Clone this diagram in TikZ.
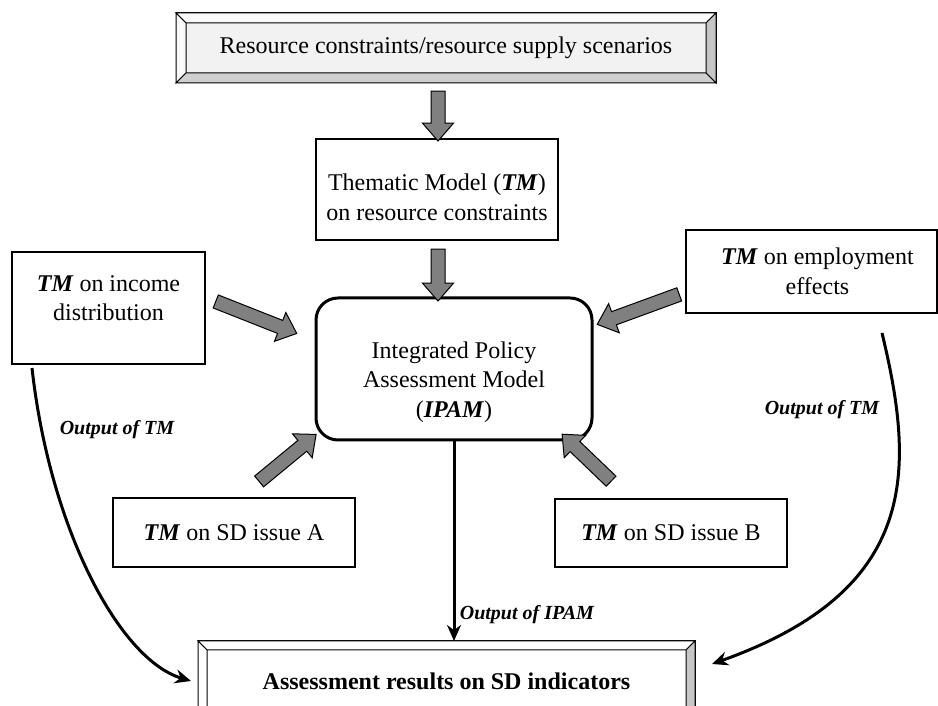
\documentclass[tikz,border=0pt]{standalone}
\usepackage{fontspec}
\setmainfont{Liberation Serif}
\usetikzlibrary{shapes.arrows,calc,arrows.meta}

\tikzset{
  model/.style={draw, line width=1.3pt, fill=white, align=center, inner sep=0pt, font=\fontsize{24}{29.5}\selectfont},
  caption/.style={align=center, inner sep=0pt, font=\fontsize{24}{29.5}\selectfont},
  bevelbox/.style={draw, line width=1pt, outer sep=0pt, inner sep=0pt, align=center, font=\fontsize{24}{29.5}\selectfont},
  blockarrow/.style={single arrow, draw=black, line width=1pt, fill=gray, minimum width=30pt, single arrow head extend=8.5pt, single arrow tip angle=82, inner xsep=0pt, inner ysep=6.5pt, sloped, allow upside down},
  outflow/.style={line width=3pt, -{Stealth[length=16pt,width=14pt]}},
  outlabel/.style={font=\fontsize{20}{24}\selectfont\bfseries\itshape}
}

% fat grey arrow between two named points
\newcommand\fatarrow[2]{\path let \p1=($(#2)-(#1)$), \n1={veclen(\x1,\y1)} in (#1) -- (#2) node[midway, blockarrow, minimum height=\n1] {};}

% raised frame: node, depth, top/left, right, bottom colours
\newcommand\bevelframe[5]{%
  \path[fill=#3, draw, line width=1pt] (#1.north west) -- (#1.north east) -- ($(#1.north east)+(-#2,-#2)$) -- ($(#1.north west)+(#2,-#2)$) -- cycle;
  \path[fill=#3, draw, line width=1pt] (#1.north west) -- (#1.south west) -- ($(#1.south west)+(#2,#2)$) -- ($(#1.north west)+(#2,-#2)$) -- cycle;
  \path[fill=#4, draw, line width=1pt] (#1.north east) -- (#1.south east) -- ($(#1.south east)+(-#2,#2)$) -- ($(#1.north east)+(-#2,-#2)$) -- cycle;
  \path[fill=#5, draw, line width=1pt] (#1.south west) -- (#1.south east) -- ($(#1.south east)+(-#2,#2)$) -- ($(#1.south west)+(#2,#2)$) -- cycle;
}

\begin{document}
\begin{tikzpicture}[x=1pt, y=1pt]
  \clip (0,0) rectangle (938,706);

  % Framed boxes
  \node[bevelbox, fill=gray!10, minimum width=540, minimum height=70] (scen) at (446,658) {Resource constraints/resource supply scenarios};
  \bevelframe{scen}{10}{gray!4}{gray!45}{gray!38}
  \node[bevelbox, fill=white, minimum width=497, minimum height=81] (result) at (446.5,24.5) {\textbf{Assessment results on SD indicators}};
  \bevelframe{result}{9}{white}{gray!45}{gray!38}

  % Models
  \node[model, minimum width=242, minimum height=101] (tmres) at (437,516.5) {};
  \node[caption] (tmrestxt) at ($(tmres)+(0,-8)$) {Thematic Model (\textbf{\textit{TM}})\\on resource constraints};
  \node[model, line width=3pt, rounded corners=22pt, minimum width=276, minimum height=142] (ipam) at (454,337) {};
  \node[caption] (ipamtxt) at ($(ipam)+(0,-13)$) {Integrated Policy\\Assessment Model\\(\textbf{\textit{IPAM}})};
  \node[model, minimum width=193, minimum height=112] (tminc) at (108.5,398) {};
  \node[caption] (tminctxt) at ($(tminc)+(0,10)$) {\textbf{\textit{TM}} on income\\distribution};
  \node[model, minimum width=251, minimum height=83] (tmemp) at (811.5,434.5) {};
  \node[caption] (tmemptxt) at ($(tmemp)+(6,0)$) {\textbf{\textit{TM}} on employment\\effects};
  \node[model, minimum width=242, minimum height=69] (tma) at (234,173.5) {\textbf{\textit{TM}} on SD issue A};
  \node[model, minimum width=232, minimum height=68] (tmb) at (671,173) {\textbf{\textit{TM}} on SD issue B};

  % Ends of the grey arrows
  \coordinate (scenout) at (438,619);
  \coordinate (tmresin) at (438,569);
  \coordinate (tmresout) at (438,461);
  \coordinate (ipamtop) at (438,409);
  \coordinate (incout) at (212,406);
  \coordinate (ipamleft) at (293,374);
  \coordinate (empout) at (683,413);
  \coordinate (ipamright) at (601,383);
  \coordinate (aout) at (256,222);
  \coordinate (ipamsw) at (313,269);
  \coordinate (bout) at (614,222);
  \coordinate (ipamse) at (565,269);

  \fatarrow{scenout}{tmresin}
  \fatarrow{tmresout}{ipamtop}
  \fatarrow{incout}{ipamleft}
  \fatarrow{empout}{ipamright}
  \fatarrow{aout}{ipamsw}
  \fatarrow{bout}{ipamse}

  % Outputs
  \coordinate (incstart) at (32,338);
  \coordinate (empstart) at (882,373);
  \coordinate (resleft) at (191,25);
  \coordinate (resright) at (712,42);
  \draw[outflow] (ipam.south) -- (ipam.south |- result.north) node[pos=0.87, right, outlabel, xshift=1pt] {Output of IPAM};
  \draw[outflow] (incstart) .. controls (50,176) and (120,46) .. (resleft);
  \draw[outflow] (empstart) .. controls (915,236) and (920,116) .. (resright);
  \node[outlabel] (lblinc) at (117,276) {Output of TM};
  \node[outlabel] (lblemp) at (822,296) {Output of TM};
\end{tikzpicture}
\end{document}
